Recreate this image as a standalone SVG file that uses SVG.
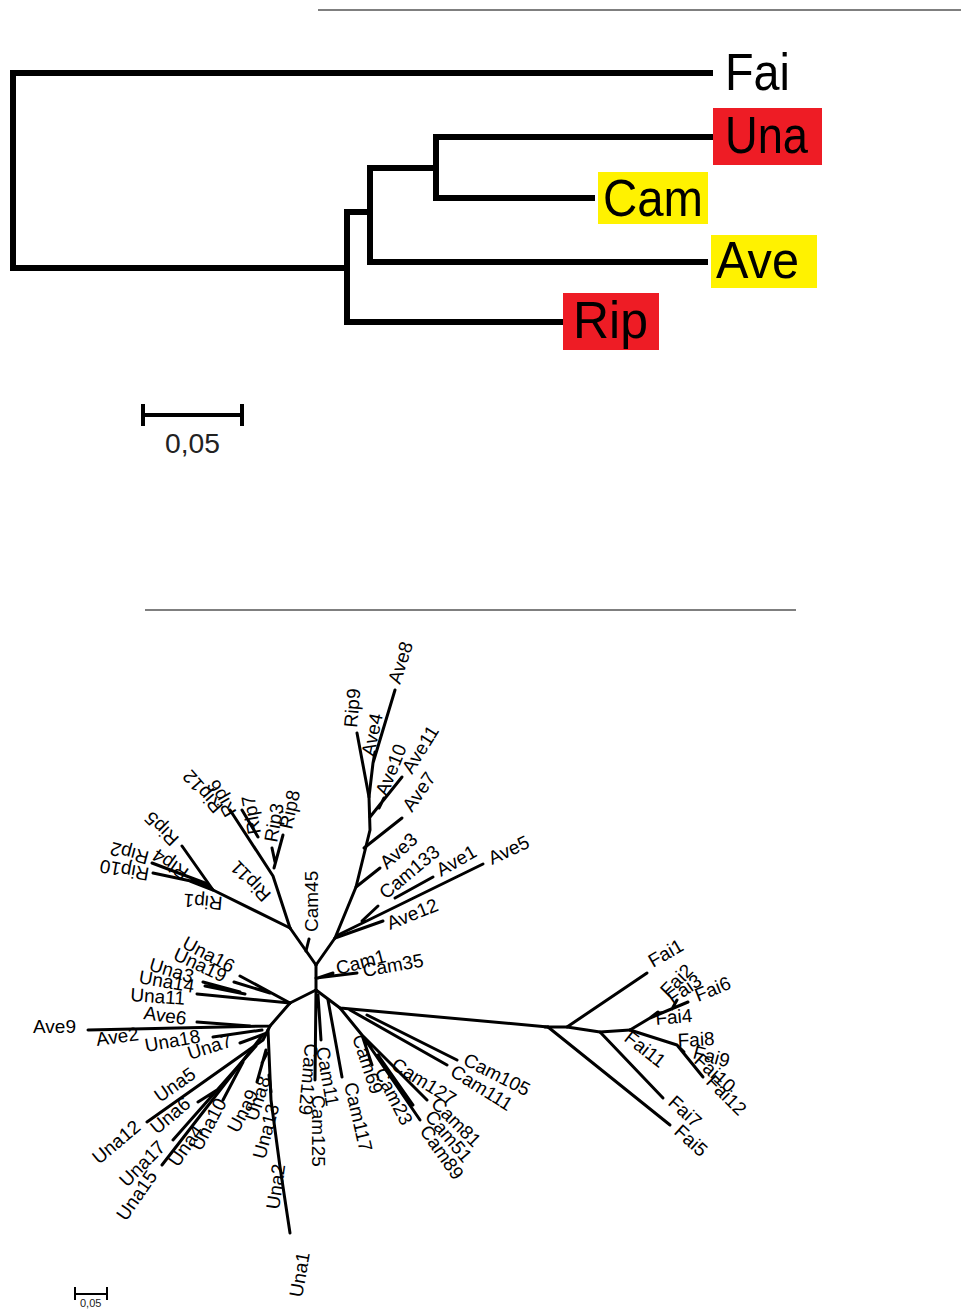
<svg xmlns="http://www.w3.org/2000/svg" width="961" height="1312" viewBox="0 0 961 1312">
<style>
.bg{fill:#ffffff}
.rule{stroke:#555;stroke-width:1.5;fill:none}
.rt{stroke:#000;stroke-width:6;fill:none;stroke-linecap:square;stroke-linejoin:miter}
.br{stroke:#000;stroke-width:3;fill:none;stroke-linecap:round;stroke-linejoin:round}
.big{font-family:"Liberation Sans",Arial,sans-serif;font-size:52px;fill:#000}
.t{font-family:"Liberation Sans",Arial,sans-serif;font-size:19px;fill:#000}
.sc{font-family:"Liberation Sans",Arial,sans-serif;fill:#222}
.red{fill:#ee1c25}
.yel{fill:#fff200}
</style>
<rect class="bg" x="0" y="0" width="961" height="1312"/>
<line class="rule" x1="318" y1="10" x2="961" y2="10"/>
<line class="rule" x1="145" y1="610" x2="796" y2="610"/>

<!-- Rooted tree connectors -->
<g id="rooted-connectors">
<polyline class="rt" points="710,73 13,73 13,268 347,268"/>
<polyline class="rt" points="562,322 347,322 347,212 370,212"/>
<polyline class="rt" points="705,262 370,262 370,168 436,168"/>
<polyline class="rt" points="712,137 436,137 436,198 592,198"/>
</g>
<g id="r-Fai"><text class="big" x="725" y="90" textLength="65" lengthAdjust="spacingAndGlyphs">Fai</text></g>
<g id="r-Una"><rect class="red" x="713" y="108" width="109" height="57"/><text class="big" x="725" y="153" textLength="83" lengthAdjust="spacingAndGlyphs">Una</text></g>
<g id="r-Cam"><rect class="yel" x="598" y="172" width="110" height="52"/><text class="big" x="603" y="216" textLength="100" lengthAdjust="spacingAndGlyphs">Cam</text></g>
<g id="r-Ave"><rect class="yel" x="711" y="235" width="106" height="53"/><text class="big" x="716" y="278" textLength="83" lengthAdjust="spacingAndGlyphs">Ave</text></g>
<g id="r-Rip"><rect class="red" x="563" y="293" width="96" height="57"/><text class="big" x="573" y="338" textLength="75" lengthAdjust="spacingAndGlyphs">Rip</text></g>
<g id="scale-top">
<polyline class="rt" style="stroke-width:4;stroke-linecap:butt" points="143,415 242,415"/>
<line class="rt" style="stroke-width:4;stroke-linecap:butt" x1="143" y1="404" x2="143" y2="426"/>
<line class="rt" style="stroke-width:4;stroke-linecap:butt" x1="242" y1="404" x2="242" y2="426"/>
<text class="sc" x="165" y="453" font-size="28" textLength="55" lengthAdjust="spacingAndGlyphs">0,05</text>
</g>

<!-- Unrooted tree connectors -->
<g id="connectors">
<!-- center -->
<path class="br" d="M316,965 L316,990"/>
<path class="br" d="M316,965 L290,928"/>
<path class="br" d="M316,965 L335,938"/>
<path class="br" d="M306,951 L309,939"/>
<path class="br" d="M316,978 L357,973 M318,978 L333,973"/>
<!-- Rip -->
<path class="br" d="M290,928 L213,890 L182,846"/>
<path class="br" d="M213,890 L205,883 L152,863 M205,884 L153,873 M213,890 L190,881"/>
<path class="br" d="M290,928 L273,876 L230,810"/>
<path class="br" d="M258,837 L242,810"/>
<path class="br" d="M274,868 L283,835 M272,848 L275,862"/>
<!-- Ave -->
<path class="br" d="M335,938 L383,921"/>
<path class="br" d="M338,935 L483,864 M395,898 L433,877 M362,921 L378,906"/>
<path class="br" d="M335,938 L356,887 L370,830 L369,797 L357,733"/>
<path class="br" d="M356,887 L380,868"/>
<path class="br" d="M364,848 L402,818"/>
<path class="br" d="M370,817 L402,777 M379,808 L384,798"/>
<path class="br" d="M369,797 L373,763 L395,690 M373,763 L375,752"/>
<!-- Una -->
<path class="br" d="M316,990 L290,1003"/>
<path class="br" d="M290,1003 L240,976 M270,993 L234,982"/>
<path class="br" d="M290,1003 L197,994 M245,994 L205,986 M240,992 L203,982"/>
<path class="br" d="M290,1003 L270,1026 L88,1030"/>
<path class="br" d="M250,1026 L197,1022"/>
<path class="br" d="M262,1030 L213,1037 M267,1033 L240,1043"/>
<path class="br" d="M270,1026 L263,1040 L147,1122"/>
<path class="br" d="M262,1036 L162,1165"/>
<path class="br" d="M256,1046 L173,1140 M217,1090 L198,1102 M243,1062 L223,1100"/>
<path class="br" d="M266,1050 L257,1082 M262,1063 L267,1053"/>
<path class="br" d="M268,1030 L271,1100 L280,1167 L290,1233"/>
<path class="br" d="M269,1075 L271,1092"/>
<!-- Cam -->
<path class="br" d="M316,990 L315,1080 M318,995 L321,1040"/>
<path class="br" d="M316,990 L340,1008 L548,1027"/>
<path class="br" d="M328,1000 L342,1077"/>
<path class="br" d="M350,1010 L447,1065 M367,1015 L457,1060"/>
<path class="br" d="M340,1008 L362,1035 L372,1065 M362,1035 L420,1120 M362,1035 L427,1100 M378,1055 L413,1105"/>
<!-- Fai -->
<path class="br" d="M545,1027 L567,1027 L647,973"/>
<path class="br" d="M567,1027 L600,1032 L630,1030"/>
<path class="br" d="M600,1032 L663,1098"/>
<path class="br" d="M548,1027 L670,1125"/>
<path class="br" d="M630,1030 L650,1018 L688,1002 M650,1018 L658,1012 M672,1009 L677,1000"/>
<path class="br" d="M630,1030 L677,1045 L703,1077 M677,1045 L684,1052"/>
</g>

<!-- Unrooted tree leaf labels -->
<g id="n-Rip12"><text class="t" transform="translate(224 806) rotate(-131)">Rip12</text></g>
<g id="n-Rip6"><text class="t" transform="translate(237 812) rotate(-120)">Rip6</text></g>
<g id="n-Rip7"><text class="t" transform="translate(261 833) rotate(-100)">Rip7</text></g>
<g id="n-Rip3"><text class="t" transform="translate(277 843) rotate(-80)">Rip3</text></g>
<g id="n-Rip8"><text class="t" transform="translate(292 830) rotate(-78)">Rip8</text></g>
<g id="n-Rip11"><text class="t" transform="translate(272 894) rotate(-134)">Rip11</text></g>
<g id="n-Rip5"><text class="t" transform="translate(180 838) rotate(-135)">Rip5</text></g>
<g id="n-Rip4"><text class="t" transform="translate(190 870) rotate(-145)">Rip4</text></g>
<g id="n-Rip2"><text class="t" transform="translate(150 852) rotate(-165)">Rip2</text></g>
<g id="n-Rip10"><text class="t" transform="translate(150 868) rotate(-170)">Rip10</text></g>
<g id="n-Rip1"><text class="t" transform="translate(223 897) rotate(-175)">Rip1</text></g>
<g id="n-Cam45"><text class="t" transform="translate(318 932) rotate(-90)">Cam45</text></g>

<g id="n-Ave8"><text class="t" transform="translate(400 685) rotate(-72)">Ave8</text></g>
<g id="n-Rip9"><text class="t" transform="translate(357 728) rotate(-85)">Rip9</text></g>
<g id="n-Ave4"><text class="t" transform="translate(374 757) rotate(-78)">Ave4</text></g>
<g id="n-Ave10"><text class="t" transform="translate(387 797) rotate(-68)">Ave10</text></g>
<g id="n-Ave11"><text class="t" transform="translate(412 775) rotate(-58)">Ave11</text></g>
<g id="n-Ave7"><text class="t" transform="translate(412 813) rotate(-55)">Ave7</text></g>
<g id="n-Ave3"><text class="t" transform="translate(387 870) rotate(-42)">Ave3</text></g>
<g id="n-Cam133"><text class="t" transform="translate(386 900) rotate(-40)">Cam133</text></g>
<g id="n-Ave1"><text class="t" transform="translate(441 877) rotate(-30)">Ave1</text></g>
<g id="n-Ave5"><text class="t" transform="translate(492 865) rotate(-25)">Ave5</text></g>
<g id="n-Ave12"><text class="t" transform="translate(390 930) rotate(-22)">Ave12</text></g>

<g id="n-Una16"><text class="t" transform="translate(181 947) rotate(28)">Una16</text></g>
<g id="n-Una19"><text class="t" transform="translate(172 959) rotate(25)">Una19</text></g>
<g id="n-Una3"><text class="t" transform="translate(148 970) rotate(17)">Una3</text></g>
<g id="n-Una14"><text class="t" transform="translate(138 983) rotate(10)">Una14</text></g>
<g id="n-Una11"><text class="t" transform="translate(130 1001) rotate(4)">Una11</text></g>
<g id="n-Ave6"><text class="t" transform="translate(143 1019) rotate(8)">Ave6</text></g>
<g id="n-Ave9"><text class="t" x="33" y="1033">Ave9</text></g>
<g id="n-Ave2"><text class="t" transform="translate(97 1046) rotate(-8)">Ave2</text></g>
<g id="n-Una18"><text class="t" transform="translate(146 1052) rotate(-10)">Una18</text></g>
<g id="n-Una7"><text class="t" transform="translate(190 1060) rotate(-18)">Una7</text></g>
<g id="n-Una5"><text class="t" transform="translate(160 1103) rotate(-35)">Una5</text></g>
<g id="n-Una12"><text class="t" transform="translate(99 1165) rotate(-40)">Una12</text></g>
<g id="n-Una6"><text class="t" transform="translate(157 1135) rotate(-40)">Una6</text></g>
<g id="n-Una17"><text class="t" transform="translate(127 1188) rotate(-45)">Una17</text></g>
<g id="n-Una15"><text class="t" transform="translate(126 1222) rotate(-55)">Una15</text></g>
<g id="n-Una4"><text class="t" transform="translate(178 1168) rotate(-55)">Una4</text></g>
<g id="n-Una10"><text class="t" transform="translate(201 1152) rotate(-62)">Una10</text></g>
<g id="n-Una9"><text class="t" transform="translate(238 1134) rotate(-62)">Una9</text></g>
<g id="n-Una8"><text class="t" transform="translate(257 1122) rotate(-72)">Una8</text></g>
<g id="n-Una13"><text class="t" transform="translate(265 1160) rotate(-75)">Una13</text></g>
<g id="n-Una2"><text class="t" transform="translate(279 1210) rotate(-82)">Una2</text></g>
<g id="n-Una1"><text class="t" transform="translate(302 1298) rotate(-80)">Una1</text></g>

<g id="n-Cam1"><text class="t" transform="translate(338 975) rotate(-15)">Cam1</text></g>
<g id="n-Cam35"><text class="t" transform="translate(364 977) rotate(-10)">Cam35</text></g>
<g id="n-Cam129"><text class="t" transform="translate(305 1043) rotate(95)">Cam129</text></g>
<g id="n-Cam11"><text class="t" transform="translate(316 1048) rotate(80)">Cam11</text></g>
<g id="n-Cam125"><text class="t" transform="translate(312 1095) rotate(90)">Cam125</text></g>
<g id="n-Cam117"><text class="t" transform="translate(344 1084) rotate(77)">Cam117</text></g>
<g id="n-Cam69"><text class="t" transform="translate(352 1037) rotate(72)">Cam69</text></g>
<g id="n-Cam23"><text class="t" transform="translate(374 1072) rotate(63)">Cam23</text></g>
<g id="n-Cam127"><text class="t" transform="translate(390 1068) rotate(32)">Cam127</text></g>
<g id="n-Cam81"><text class="t" transform="translate(430 1105) rotate(45)">Cam81</text></g>
<g id="n-Cam51"><text class="t" transform="translate(424 1117) rotate(50)">Cam51</text></g>
<g id="n-Cam89"><text class="t" transform="translate(419 1131) rotate(55)">Cam89</text></g>
<g id="n-Cam105"><text class="t" transform="translate(462 1064) rotate(27)">Cam105</text></g>
<g id="n-Cam111"><text class="t" transform="translate(449 1075) rotate(32)">Cam111</text></g>

<g id="n-Fai1"><text class="t" transform="translate(653 968) rotate(-30)">Fai1</text></g>
<g id="n-Fai2"><text class="t" transform="translate(668 998) rotate(-45)">Fai2</text></g>
<g id="n-Fai3"><text class="t" transform="translate(673 1005) rotate(-35)">Fai3</text></g>
<g id="n-Fai6"><text class="t" transform="translate(698 1002) rotate(-22)">Fai6</text></g>
<g id="n-Fai4"><text class="t" transform="translate(656 1025) rotate(-5)">Fai4</text></g>
<g id="n-Fai8"><text class="t" transform="translate(678 1047) rotate(-3)">Fai8</text></g>
<g id="n-Fai9"><text class="t" transform="translate(692 1058) rotate(15)">Fai9</text></g>
<g id="n-Fai10"><text class="t" transform="translate(693 1062) rotate(42)">Fai10</text></g>
<g id="n-Fai12"><text class="t" transform="translate(705 1083) rotate(45)">Fai12</text></g>
<g id="n-Fai11"><text class="t" transform="translate(623 1040) rotate(38)">Fai11</text></g>
<g id="n-Fai7"><text class="t" transform="translate(667 1104) rotate(42)">Fai7</text></g>
<g id="n-Fai5"><text class="t" transform="translate(673 1133) rotate(42)">Fai5</text></g>

<g id="scale-bottom">
<line class="br" style="stroke-width:2;stroke-linecap:butt" x1="75" y1="1294" x2="107" y2="1294"/>
<line class="br" style="stroke-width:2;stroke-linecap:butt" x1="75" y1="1287" x2="75" y2="1300"/>
<line class="br" style="stroke-width:2;stroke-linecap:butt" x1="107" y1="1287" x2="107" y2="1300"/>
<text class="sc" x="80" y="1307" font-size="11">0,05</text>
</g>
</svg>
